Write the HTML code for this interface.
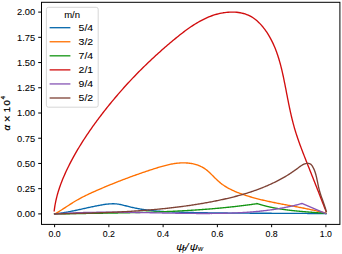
<!DOCTYPE html>
<html><head><meta charset="utf-8"><style>
html,body{margin:0;padding:0;background:#fff;width:342px;height:254px;overflow:hidden}
svg{display:block}
text{font-family:"Liberation Sans",sans-serif;font-size:9.5px;fill:#000;stroke:#000;stroke-width:0.08px}
.yl text{stroke-width:0.25px}
</style></head><body>
<svg width="342" height="254" viewBox="0 0 342 254">
<rect width="342" height="254" fill="#fff"/>
<g fill="none" stroke-width="1.35" stroke-linecap="square" stroke-linejoin="round">
<path d="M54.60,213.82 L55.51,213.74 L56.41,213.64 L57.32,213.54 L58.22,213.44 L59.12,213.33 L60.02,213.21 L60.93,213.08 L61.83,212.95 L62.73,212.82 L63.63,212.68 L64.53,212.53 L65.43,212.38 L66.33,212.22 L67.23,212.06 L68.13,211.90 L69.02,211.73 L69.92,211.56 L70.82,211.39 L71.72,211.21 L72.62,211.03 L73.51,210.84 L74.41,210.66 L75.31,210.47 L76.20,210.28 L77.10,210.09 L78.00,209.89 L78.89,209.70 L79.79,209.50 L80.69,209.30 L81.59,209.10 L82.48,208.90 L83.38,208.70 L84.28,208.50 L85.17,208.30 L86.07,208.10 L86.97,207.90 L87.87,207.71 L88.76,207.51 L89.66,207.31 L90.56,207.12 L91.46,206.93 L92.36,206.73 L93.26,206.54 L94.16,206.36 L95.06,206.17 L95.96,205.99 L96.86,205.81 L97.76,205.64 L98.66,205.47 L99.56,205.30 L100.47,205.13 L101.37,204.97 L102.27,204.82 L103.18,204.67 L104.08,204.53 L104.98,204.39 L105.89,204.27 L106.79,204.16 L107.70,204.06 L108.60,203.97 L109.50,203.90 L110.40,203.84 L111.30,203.80 L112.20,203.77 L113.10,203.77 L113.99,203.78 L114.89,203.82 L115.78,203.87 L116.67,203.95 L117.56,204.06 L118.45,204.19 L119.34,204.34 L120.22,204.50 L121.10,204.69 L121.99,204.88 L122.87,205.09 L123.75,205.31 L124.63,205.53 L125.52,205.76 L126.40,205.99 L127.28,206.22 L128.16,206.45 L129.05,206.68 L129.93,206.89 L130.82,207.10 L131.71,207.31 L132.59,207.51 L133.48,207.70 L134.37,207.89 L135.27,208.07 L136.16,208.25 L137.05,208.42 L137.95,208.59 L138.84,208.75 L139.74,208.91 L140.63,209.06 L141.53,209.21 L142.43,209.35 L143.33,209.49 L144.23,209.62 L145.13,209.75 L146.03,209.88 L146.93,210.00 L147.84,210.11 L148.74,210.22 L149.65,210.33 L150.55,210.43 L151.46,210.53 L152.36,210.63 L153.27,210.72 L154.18,210.81 L155.09,210.90 L156.00,210.98 L156.90,211.06 L157.81,211.13 L158.72,211.20 L159.64,211.27 L160.55,211.34 L161.46,211.40 L162.37,211.46 L163.28,211.52 L164.19,211.58 L165.11,211.63 L166.02,211.68 L166.93,211.73 L167.85,211.78 L168.76,211.82 L169.68,211.86 L170.59,211.90 L171.51,211.94 L172.42,211.98 L173.34,212.01 L174.25,212.05 L175.17,212.08 L176.09,212.11 L177.00,212.14 L177.92,212.17 L178.83,212.19 L179.75,212.22 L180.67,212.25 L181.58,212.27 L182.50,212.29 L183.41,212.32 L184.33,212.34 L185.25,212.36 L186.16,212.38 L187.08,212.40 L187.99,212.43 L188.91,212.45 L189.83,212.47 L190.74,212.49 L191.66,212.51 L192.57,212.53 L193.49,212.54 L194.40,212.56 L195.32,212.58 L196.23,212.60 L197.15,212.62 L198.06,212.63 L198.98,212.65 L199.89,212.67 L200.81,212.68 L201.72,212.70 L202.64,212.72 L203.55,212.73 L204.47,212.75 L205.38,212.76 L206.30,212.78 L207.21,212.79 L208.13,212.80 L209.04,212.82 L209.95,212.83 L210.87,212.84 L211.78,212.86 L212.70,212.87 L213.61,212.88 L214.53,212.89 L215.44,212.91 L216.35,212.92 L217.27,212.93 L218.18,212.94 L219.10,212.95 L220.01,212.96 L220.92,212.97 L221.84,212.98 L222.75,212.99 L223.66,213.00 L224.58,213.01 L225.49,213.02 L226.40,213.03 L227.32,213.04 L228.23,213.05 L229.15,213.05 L230.06,213.06 L230.97,213.07 L231.89,213.08 L232.80,213.09 L233.71,213.09 L234.63,213.10 L235.54,213.11 L236.45,213.12 L237.37,213.12 L238.28,213.13 L239.19,213.14 L240.11,213.14 L241.02,213.15 L241.93,213.15 L242.85,213.16 L243.76,213.17 L244.67,213.17 L245.58,213.18 L246.50,213.18 L247.41,213.19 L248.32,213.19 L249.24,213.20 L250.15,213.20 L251.06,213.21 L251.98,213.21 L252.89,213.22 L253.80,213.22 L254.72,213.23 L255.63,213.23 L256.54,213.23 L257.45,213.24 L258.37,213.24 L259.28,213.25 L260.19,213.25 L261.11,213.26 L262.02,213.26 L262.93,213.26 L263.85,213.27 L264.76,213.27 L265.67,213.27 L266.59,213.28 L267.50,213.28 L268.41,213.28 L269.33,213.29 L270.24,213.29 L271.15,213.29 L272.06,213.30 L272.98,213.30 L273.89,213.30 L274.80,213.31 L275.72,213.31 L276.63,213.31 L277.54,213.32 L278.46,213.32 L279.37,213.32 L280.28,213.33 L281.20,213.33 L282.11,213.33 L283.03,213.34 L283.94,213.34 L284.85,213.35 L285.77,213.35 L286.68,213.35 L287.59,213.36 L288.51,213.36 L289.42,213.36 L290.33,213.37 L291.25,213.37 L292.16,213.37 L293.08,213.38 L293.99,213.38 L294.90,213.39 L295.82,213.39 L296.73,213.40 L297.65,213.40 L298.56,213.40 L299.47,213.41 L300.39,213.41 L301.30,213.42 L302.22,213.42 L303.13,213.43 L304.05,213.43 L304.96,213.44 L305.88,213.44 L306.79,213.45 L307.70,213.45 L308.62,213.46 L309.53,213.46 L310.45,213.47 L311.36,213.48 L312.28,213.48 L313.19,213.49 L314.11,213.50 L315.02,213.50 L315.94,213.51 L316.85,213.52 L317.77,213.52 L318.68,213.53 L319.60,213.54 L320.52,213.54 L321.43,213.55 L322.35,213.56 L323.26,213.57 L324.18,213.58 L325.09,213.59 L326.01,213.59" stroke="#0467ab"/>
<path d="M54.66,213.98 L55.52,213.51 L56.38,213.03 L57.24,212.54 L58.09,212.05 L58.93,211.55 L59.77,211.04 L60.60,210.52 L61.44,210.00 L62.26,209.47 L63.09,208.94 L63.91,208.41 L64.73,207.88 L65.55,207.34 L66.37,206.80 L67.19,206.27 L68.01,205.73 L68.83,205.19 L69.66,204.66 L70.48,204.13 L71.31,203.60 L72.14,203.07 L72.97,202.55 L73.81,202.04 L74.65,201.53 L75.50,201.03 L76.35,200.53 L77.20,200.04 L78.06,199.56 L78.92,199.08 L79.79,198.61 L80.66,198.14 L81.53,197.68 L82.41,197.22 L83.29,196.77 L84.17,196.32 L85.05,195.88 L85.94,195.44 L86.83,195.01 L87.72,194.58 L88.62,194.15 L89.51,193.73 L90.41,193.31 L91.31,192.90 L92.21,192.48 L93.11,192.08 L94.01,191.67 L94.91,191.27 L95.82,190.87 L96.72,190.47 L97.63,190.07 L98.53,189.68 L99.43,189.29 L100.34,188.90 L101.24,188.52 L102.15,188.13 L103.05,187.75 L103.95,187.36 L104.86,186.98 L105.76,186.61 L106.66,186.23 L107.57,185.85 L108.47,185.48 L109.37,185.11 L110.28,184.74 L111.18,184.37 L112.08,184.01 L112.99,183.64 L113.89,183.28 L114.80,182.92 L115.70,182.56 L116.61,182.20 L117.51,181.84 L118.42,181.48 L119.32,181.13 L120.23,180.78 L121.14,180.43 L122.05,180.08 L122.96,179.73 L123.87,179.38 L124.78,179.04 L125.69,178.69 L126.60,178.35 L127.51,178.01 L128.42,177.67 L129.34,177.33 L130.25,176.99 L131.17,176.66 L132.09,176.32 L133.00,175.99 L133.92,175.66 L134.84,175.33 L135.77,175.00 L136.69,174.67 L137.61,174.34 L138.54,174.02 L139.47,173.69 L140.39,173.37 L141.32,173.05 L142.25,172.73 L143.19,172.41 L144.12,172.09 L145.06,171.77 L145.99,171.46 L146.93,171.14 L147.87,170.83 L148.82,170.51 L149.76,170.20 L150.71,169.89 L151.65,169.58 L152.60,169.27 L153.55,168.96 L154.51,168.65 L155.46,168.35 L156.42,168.05 L157.38,167.75 L158.34,167.45 L159.30,167.16 L160.26,166.88 L161.23,166.59 L162.19,166.32 L163.16,166.05 L164.13,165.79 L165.10,165.54 L166.07,165.29 L167.04,165.05 L168.01,164.83 L168.99,164.61 L169.96,164.40 L170.93,164.20 L171.91,164.02 L172.89,163.84 L173.86,163.68 L174.84,163.53 L175.82,163.40 L176.80,163.28 L177.78,163.17 L178.76,163.08 L179.74,163.01 L180.72,162.95 L181.70,162.91 L182.68,162.89 L183.66,162.88 L184.64,162.89 L185.61,162.92 L186.59,162.97 L187.56,163.04 L188.54,163.14 L189.50,163.25 L190.47,163.38 L191.42,163.53 L192.38,163.71 L193.32,163.90 L194.26,164.12 L195.19,164.36 L196.11,164.63 L197.03,164.92 L197.93,165.23 L198.83,165.57 L199.71,165.94 L200.58,166.32 L201.44,166.74 L202.29,167.18 L203.12,167.65 L203.94,168.14 L204.75,168.66 L205.54,169.21 L206.31,169.79 L207.07,170.39 L207.82,171.02 L208.56,171.66 L209.29,172.33 L210.01,173.00 L210.72,173.69 L211.43,174.39 L212.13,175.10 L212.84,175.81 L213.54,176.52 L214.24,177.23 L214.95,177.94 L215.66,178.64 L216.37,179.33 L217.10,180.02 L217.83,180.69 L218.56,181.35 L219.31,182.00 L220.07,182.63 L220.83,183.25 L221.61,183.85 L222.40,184.43 L223.20,184.99 L224.01,185.55 L224.83,186.08 L225.65,186.60 L226.49,187.11 L227.33,187.61 L228.18,188.09 L229.04,188.55 L229.91,189.01 L230.78,189.45 L231.66,189.89 L232.54,190.31 L233.44,190.72 L234.33,191.12 L235.23,191.51 L236.14,191.89 L237.05,192.26 L237.97,192.62 L238.88,192.98 L239.81,193.32 L240.73,193.66 L241.66,193.99 L242.59,194.32 L243.52,194.64 L244.45,194.95 L245.39,195.26 L246.33,195.57 L247.26,195.86 L248.20,196.16 L249.14,196.44 L250.09,196.73 L251.03,197.00 L251.97,197.28 L252.92,197.55 L253.86,197.81 L254.81,198.07 L255.76,198.33 L256.71,198.58 L257.66,198.82 L258.61,199.07 L259.57,199.31 L260.52,199.54 L261.48,199.78 L262.43,200.01 L263.39,200.23 L264.35,200.45 L265.31,200.67 L266.26,200.89 L267.22,201.10 L268.19,201.32 L269.15,201.52 L270.11,201.73 L271.07,201.93 L272.03,202.13 L273.00,202.33 L273.96,202.53 L274.93,202.72 L275.89,202.92 L276.86,203.11 L277.82,203.30 L278.79,203.49 L279.76,203.67 L280.73,203.86 L281.69,204.04 L282.66,204.23 L283.63,204.41 L284.60,204.59 L285.56,204.77 L286.53,204.95 L287.50,205.13 L288.47,205.31 L289.44,205.49 L290.41,205.67 L291.38,205.85 L292.35,206.02 L293.31,206.20 L294.28,206.38 L295.25,206.56 L296.22,206.74 L297.19,206.92 L298.15,207.11 L299.12,207.29 L300.09,207.47 L301.06,207.66 L302.02,207.84 L302.99,208.03 L303.95,208.22 L304.92,208.41 L305.88,208.60 L306.85,208.79 L307.81,208.99 L308.78,209.19 L309.74,209.39 L310.70,209.59 L311.66,209.79 L312.62,210.00 L313.58,210.21 L314.54,210.42 L315.50,210.64 L316.46,210.85 L317.41,211.08 L318.37,211.30 L319.33,211.53 L320.28,211.76 L321.23,211.99 L322.18,212.23 L323.14,212.47 L324.09,212.71 L325.04,212.96 L325.98,213.22" stroke="#ff7000"/>
<path d="M54.61,213.98 L55.28,213.97 L55.96,213.96 L56.64,213.94 L57.31,213.93 L57.99,213.92 L58.67,213.90 L59.34,213.89 L60.02,213.88 L60.70,213.87 L61.37,213.85 L62.05,213.84 L62.73,213.83 L63.40,213.82 L64.08,213.80 L64.76,213.79 L65.43,213.78 L66.11,213.77 L66.79,213.76 L67.46,213.75 L68.14,213.73 L68.82,213.72 L69.50,213.71 L70.17,213.70 L70.85,213.69 L71.53,213.68 L72.20,213.67 L72.88,213.66 L73.56,213.65 L74.24,213.64 L74.91,213.62 L75.59,213.61 L76.27,213.60 L76.94,213.59 L77.62,213.58 L78.30,213.57 L78.98,213.56 L79.65,213.55 L80.33,213.54 L81.01,213.53 L81.69,213.52 L82.36,213.51 L83.04,213.50 L83.72,213.49 L84.40,213.48 L85.07,213.47 L85.75,213.46 L86.43,213.45 L87.11,213.44 L87.78,213.43 L88.46,213.42 L89.14,213.41 L89.82,213.40 L90.49,213.39 L91.17,213.38 L91.85,213.37 L92.53,213.36 L93.20,213.35 L93.88,213.34 L94.56,213.33 L95.24,213.32 L95.91,213.31 L96.59,213.30 L97.27,213.29 L97.95,213.28 L98.63,213.27 L99.30,213.26 L99.98,213.25 L100.66,213.24 L101.34,213.23 L102.01,213.22 L102.69,213.21 L103.37,213.20 L104.05,213.19 L104.73,213.17 L105.40,213.16 L106.08,213.15 L106.76,213.14 L107.44,213.13 L108.12,213.12 L108.79,213.11 L109.47,213.10 L110.15,213.09 L110.83,213.07 L111.51,213.06 L112.18,213.05 L112.86,213.04 L113.54,213.03 L114.22,213.02 L114.90,213.00 L115.57,212.99 L116.25,212.98 L116.93,212.97 L117.61,212.96 L118.28,212.94 L118.96,212.93 L119.64,212.92 L120.32,212.90 L121.00,212.89 L121.67,212.88 L122.35,212.87 L123.03,212.85 L123.71,212.84 L124.39,212.82 L125.06,212.81 L125.74,212.80 L126.42,212.78 L127.10,212.77 L127.78,212.75 L128.45,212.74 L129.13,212.72 L129.81,212.71 L130.49,212.69 L131.17,212.68 L131.84,212.66 L132.52,212.65 L133.20,212.63 L133.88,212.62 L134.56,212.60 L135.23,212.58 L135.91,212.57 L136.59,212.55 L137.27,212.53 L137.95,212.52 L138.62,212.50 L139.30,212.48 L139.98,212.46 L140.66,212.44 L141.33,212.43 L142.01,212.41 L142.69,212.39 L143.37,212.37 L144.05,212.35 L144.72,212.33 L145.40,212.31 L146.08,212.29 L146.76,212.27 L147.43,212.25 L148.11,212.23 L148.79,212.21 L149.47,212.19 L150.14,212.17 L150.82,212.15 L151.50,212.12 L152.18,212.10 L152.86,212.08 L153.53,212.06 L154.21,212.03 L154.89,212.01 L155.57,211.99 L156.24,211.96 L156.92,211.94 L157.60,211.92 L158.28,211.89 L158.95,211.87 L159.63,211.84 L160.31,211.82 L160.99,211.79 L161.66,211.76 L162.34,211.74 L163.02,211.71 L163.69,211.68 L164.37,211.66 L165.05,211.63 L165.73,211.60 L166.40,211.57 L167.08,211.54 L167.76,211.52 L168.44,211.49 L169.11,211.46 L169.79,211.43 L170.47,211.40 L171.14,211.37 L171.82,211.33 L172.50,211.30 L173.17,211.27 L173.85,211.24 L174.53,211.21 L175.21,211.17 L175.88,211.14 L176.56,211.11 L177.24,211.07 L177.91,211.04 L178.59,211.01 L179.27,210.97 L179.94,210.94 L180.62,210.90 L181.30,210.86 L181.97,210.83 L182.65,210.79 L183.33,210.75 L184.00,210.72 L184.68,210.68 L185.36,210.64 L186.03,210.60 L186.71,210.56 L187.38,210.52 L188.06,210.48 L188.74,210.44 L189.41,210.40 L190.09,210.36 L190.77,210.32 L191.44,210.28 L192.12,210.23 L192.79,210.19 L193.47,210.15 L194.15,210.10 L194.82,210.06 L195.50,210.01 L196.17,209.97 L196.85,209.92 L197.53,209.88 L198.20,209.83 L198.88,209.78 L199.55,209.74 L200.23,209.69 L200.90,209.64 L201.58,209.59 L202.26,209.54 L202.93,209.49 L203.61,209.44 L204.28,209.39 L204.96,209.34 L205.63,209.29 L206.31,209.24 L206.98,209.18 L207.66,209.13 L208.33,209.08 L209.01,209.02 L209.68,208.97 L210.36,208.91 L211.03,208.86 L211.71,208.80 L212.38,208.74 L213.06,208.69 L213.73,208.63 L214.41,208.57 L215.08,208.51 L215.76,208.45 L216.43,208.39 L217.11,208.33 L217.78,208.27 L218.46,208.21 L219.13,208.15 L219.81,208.08 L220.48,208.02 L221.15,207.96 L221.83,207.89 L222.50,207.83 L223.18,207.76 L223.85,207.70 L224.53,207.63 L225.20,207.56 L225.87,207.50 L226.55,207.43 L227.22,207.36 L227.89,207.29 L228.57,207.22 L229.24,207.15 L229.92,207.08 L230.59,207.01 L231.26,206.93 L231.94,206.86 L232.61,206.79 L233.28,206.71 L233.96,206.64 L234.63,206.56 L235.30,206.49 L235.98,206.41 L236.65,206.33 L237.32,206.26 L238.00,206.18 L238.67,206.10 L239.34,206.02 L240.01,205.94 L240.69,205.86 L241.36,205.78 L242.03,205.69 L242.70,205.61 L243.38,205.53 L244.05,205.44 L244.72,205.36 L245.39,205.27 L246.07,205.19 L246.74,205.10 L247.41,205.01 L248.08,204.93 L248.75,204.84 L249.43,204.75 L250.10,204.66 L250.77,204.57 L251.44,204.47 L252.11,204.38 L252.79,204.29 L253.46,204.20 L254.13,204.10 L254.80,204.01 L255.47,203.91 L256.14,203.82 L256.81,203.72 L256.83,203.46 L257.05,203.53 L257.28,203.61 L257.50,203.68 L257.72,203.75 L257.95,203.82 L258.17,203.89 L258.39,203.96 L258.62,204.03 L258.84,204.10 L259.07,204.17 L259.29,204.24 L259.51,204.31 L259.74,204.38 L259.96,204.45 L260.19,204.51 L260.41,204.58 L260.64,204.65 L260.86,204.71 L261.09,204.78 L261.31,204.84 L261.54,204.91 L261.76,204.97 L261.99,205.03 L262.21,205.10 L262.44,205.16 L262.66,205.22 L262.89,205.29 L263.11,205.35 L263.34,205.41 L263.57,205.47 L263.79,205.53 L264.02,205.59 L264.24,205.65 L264.47,205.71 L264.70,205.77 L264.92,205.83 L265.15,205.88 L265.38,205.94 L265.60,206.00 L265.83,206.06 L266.05,206.11 L266.28,206.17 L266.51,206.22 L266.74,206.28 L266.96,206.34 L267.19,206.39 L267.42,206.44 L267.64,206.50 L267.87,206.55 L268.10,206.60 L268.32,206.66 L268.55,206.71 L268.78,206.76 L269.01,206.81 L269.23,206.87 L269.46,206.92 L269.69,206.97 L269.92,207.02 L270.15,207.07 L270.37,207.12 L270.60,207.17 L270.83,207.22 L271.06,207.26 L271.29,207.31 L271.51,207.36 L271.74,207.41 L271.97,207.45 L272.20,207.50 L272.43,207.55 L272.66,207.59 L272.89,207.64 L273.11,207.69 L273.34,207.73 L273.57,207.78 L273.80,207.82 L274.03,207.87 L274.26,207.91 L274.49,207.95 L274.72,208.00 L274.95,208.04 L275.17,208.08 L275.40,208.13 L275.63,208.17 L275.86,208.21 L276.09,208.25 L276.32,208.29 L276.55,208.33 L276.78,208.37 L277.01,208.41 L277.24,208.45 L277.47,208.49 L277.70,208.53 L277.93,208.57 L278.16,208.61 L278.39,208.65 L278.62,208.69 L278.85,208.73 L279.08,208.77 L279.31,208.80 L279.54,208.84 L279.77,208.88 L280.00,208.91 L280.23,208.95 L280.46,208.99 L280.69,209.02 L280.92,209.06 L281.15,209.09 L281.38,209.13 L281.61,209.16 L281.85,209.20 L282.08,209.23 L282.31,209.27 L282.54,209.30 L282.77,209.34 L283.00,209.37 L283.23,209.40 L283.46,209.44 L283.69,209.47 L283.92,209.50 L284.15,209.53 L284.39,209.57 L284.62,209.60 L284.85,209.63 L285.08,209.66 L285.31,209.69 L285.54,209.72 L285.77,209.75 L286.01,209.78 L286.24,209.81 L286.47,209.84 L286.70,209.87 L286.93,209.90 L287.16,209.93 L287.39,209.96 L287.63,209.99 L287.86,210.02 L288.09,210.05 L288.32,210.08 L288.55,210.11 L288.79,210.14 L289.02,210.16 L289.25,210.19 L289.48,210.22 L289.71,210.25 L289.95,210.27 L290.18,210.30 L290.41,210.33 L290.64,210.35 L290.87,210.38 L291.11,210.41 L291.34,210.43 L291.57,210.46 L291.80,210.48 L292.04,210.51 L292.27,210.54 L292.50,210.56 L292.73,210.59 L292.96,210.61 L293.20,210.64 L293.43,210.66 L293.66,210.69 L293.89,210.71 L294.13,210.73 L294.36,210.76 L294.59,210.78 L294.82,210.81 L295.06,210.83 L295.29,210.85 L295.52,210.88 L295.76,210.90 L295.99,210.92 L296.22,210.95 L296.45,210.97 L296.69,210.99 L296.92,211.01 L297.15,211.04 L297.38,211.06 L297.62,211.08 L297.85,211.10 L298.08,211.13 L298.32,211.15 L298.55,211.17 L298.78,211.19 L299.02,211.21 L299.25,211.23 L299.48,211.26 L299.71,211.28 L299.95,211.30 L300.18,211.32 L300.41,211.34 L300.65,211.36 L300.88,211.38 L301.11,211.40 L301.35,211.42 L301.58,211.44 L301.81,211.46 L302.04,211.48 L302.28,211.51 L302.51,211.53 L302.74,211.55 L302.98,211.57 L303.21,211.59 L303.44,211.61 L303.68,211.63 L303.91,211.65 L304.14,211.66 L304.38,211.68 L304.61,211.70 L304.84,211.72 L305.08,211.74 L305.31,211.76 L305.54,211.78 L305.78,211.80 L306.01,211.82 L306.24,211.84 L306.47,211.86 L306.71,211.88 L306.94,211.90 L307.17,211.92 L307.41,211.94 L307.64,211.95 L307.87,211.97 L308.11,211.99 L308.34,212.01 L308.57,212.03 L308.81,212.05 L309.04,212.07 L309.27,212.09 L309.51,212.11 L309.74,212.12 L309.97,212.14 L310.21,212.16 L310.44,212.18 L310.67,212.20 L310.91,212.22 L311.14,212.24 L311.37,212.25 L311.61,212.27 L311.84,212.29 L312.07,212.31 L312.31,212.33 L312.54,212.35 L312.77,212.37 L313.00,212.39 L313.24,212.40 L313.47,212.42 L313.70,212.44 L313.94,212.46 L314.17,212.48 L314.40,212.50 L314.64,212.52 L314.87,212.54 L315.10,212.55 L315.34,212.57 L315.57,212.59 L315.80,212.61 L316.03,212.63 L316.27,212.65 L316.50,212.67 L316.73,212.69 L316.97,212.71 L317.20,212.73 L317.43,212.74 L317.66,212.76 L317.90,212.78 L318.13,212.80 L318.36,212.82 L318.60,212.84 L318.83,212.86 L319.06,212.88 L319.29,212.90 L319.53,212.92 L319.76,212.94 L319.99,212.96 L320.22,212.98 L320.46,213.00 L320.69,213.02 L320.92,213.04 L321.15,213.06 L321.39,213.08 L321.62,213.10 L321.85,213.12 L322.08,213.14 L322.32,213.16 L322.55,213.18 L322.78,213.20 L323.01,213.22 L323.25,213.25 L323.48,213.27 L323.71,213.29 L323.94,213.31 L324.18,213.33 L324.41,213.35 L324.64,213.37 L324.87,213.39 L325.10,213.42 L325.34,213.44 L325.57,213.46 L325.80,213.48" stroke="#139513"/>
<path d="M54.21,210.82 L54.42,209.10 L54.66,207.39 L54.93,205.69 L55.23,204.00 L55.55,202.32 L55.90,200.64 L56.28,198.98 L56.68,197.32 L57.10,195.68 L57.55,194.04 L58.02,192.41 L58.51,190.79 L59.03,189.17 L59.56,187.56 L60.12,185.96 L60.69,184.37 L61.29,182.78 L61.90,181.20 L62.53,179.62 L63.18,178.06 L63.84,176.49 L64.52,174.94 L65.21,173.38 L65.92,171.84 L66.63,170.30 L67.37,168.76 L68.11,167.23 L68.87,165.70 L69.64,164.18 L70.42,162.66 L71.21,161.14 L72.01,159.64 L72.82,158.13 L73.64,156.63 L74.48,155.14 L75.32,153.65 L76.17,152.16 L77.03,150.68 L77.91,149.20 L78.79,147.73 L79.68,146.26 L80.58,144.80 L81.48,143.34 L82.40,141.89 L83.32,140.44 L84.26,139.00 L85.19,137.56 L86.14,136.13 L87.10,134.70 L88.06,133.28 L89.03,131.86 L90.00,130.44 L90.98,129.03 L91.97,127.63 L92.96,126.23 L93.96,124.84 L94.97,123.45 L95.98,122.07 L96.99,120.69 L98.01,119.31 L99.04,117.94 L100.07,116.58 L101.10,115.22 L102.14,113.87 L103.18,112.52 L104.23,111.18 L105.27,109.84 L106.33,108.51 L107.39,107.18 L108.45,105.85 L109.52,104.54 L110.59,103.22 L111.66,101.91 L112.74,100.61 L113.82,99.31 L114.91,98.02 L116.00,96.73 L117.10,95.44 L118.20,94.16 L119.31,92.88 L120.42,91.61 L121.53,90.34 L122.65,89.08 L123.77,87.82 L124.90,86.57 L126.04,85.32 L127.17,84.07 L128.32,82.83 L129.46,81.59 L130.62,80.36 L131.77,79.13 L132.94,77.90 L134.10,76.68 L135.27,75.46 L136.45,74.25 L137.63,73.04 L138.82,71.83 L140.01,70.63 L141.21,69.43 L142.41,68.24 L143.62,67.05 L144.83,65.86 L146.05,64.68 L147.27,63.50 L148.50,62.32 L149.74,61.15 L150.98,59.98 L152.22,58.81 L153.47,57.65 L154.73,56.49 L155.99,55.33 L157.26,54.18 L158.53,53.03 L159.81,51.88 L161.09,50.74 L162.38,49.60 L163.67,48.46 L164.97,47.33 L166.28,46.20 L167.59,45.07 L168.91,43.94 L170.24,42.82 L171.57,41.70 L172.90,40.59 L174.24,39.47 L175.59,38.36 L176.95,37.26 L178.31,36.16 L179.68,35.07 L181.05,33.99 L182.43,32.92 L183.82,31.86 L185.22,30.82 L186.62,29.79 L188.04,28.77 L189.46,27.77 L190.89,26.80 L192.32,25.84 L193.77,24.90 L195.23,23.98 L196.69,23.09 L198.16,22.22 L199.65,21.38 L201.14,20.57 L202.64,19.78 L204.15,19.03 L205.68,18.30 L207.21,17.61 L208.76,16.95 L210.31,16.33 L211.88,15.75 L213.46,15.20 L215.04,14.69 L216.65,14.23 L218.26,13.80 L219.88,13.42 L221.52,13.08 L223.17,12.79 L224.83,12.55 L226.51,12.35 L228.19,12.21 L229.90,12.11 L231.61,12.07 L233.32,12.08 L235.04,12.15 L236.76,12.29 L238.46,12.48 L240.15,12.75 L241.83,13.08 L243.48,13.49 L245.11,13.96 L246.70,14.52 L248.26,15.16 L249.78,15.87 L251.25,16.67 L252.68,17.55 L254.07,18.49 L255.42,19.50 L256.73,20.58 L258.00,21.71 L259.23,22.89 L260.42,24.12 L261.57,25.39 L262.69,26.70 L263.76,28.05 L264.80,29.42 L265.81,30.82 L266.78,32.23 L267.71,33.67 L268.61,35.12 L269.48,36.59 L270.32,38.07 L271.13,39.57 L271.90,41.09 L272.65,42.62 L273.37,44.16 L274.06,45.72 L274.73,47.29 L275.37,48.87 L275.99,50.46 L276.58,52.06 L277.16,53.68 L277.71,55.30 L278.24,56.93 L278.75,58.57 L279.24,60.21 L279.72,61.87 L280.18,63.53 L280.62,65.19 L281.05,66.86 L281.47,68.53 L281.87,70.21 L282.27,71.89 L282.65,73.58 L283.02,75.26 L283.38,76.95 L283.74,78.63 L284.09,80.32 L284.43,82.01 L284.77,83.69 L285.10,85.37 L285.43,87.06 L285.76,88.74 L286.09,90.41 L286.41,92.09 L286.73,93.76 L287.06,95.43 L287.38,97.10 L287.71,98.77 L288.04,100.44 L288.37,102.10 L288.70,103.77 L289.04,105.43 L289.38,107.08 L289.73,108.74 L290.09,110.39 L290.45,112.05 L290.82,113.70 L291.19,115.35 L291.58,116.99 L291.98,118.64 L292.38,120.28 L292.80,121.92 L293.23,123.56 L293.67,125.19 L294.12,126.82 L294.58,128.46 L295.07,130.09 L295.56,131.71 L296.07,133.34 L296.59,134.96 L297.13,136.58 L297.67,138.20 L298.23,139.82 L298.80,141.43 L299.37,143.04 L299.96,144.65 L300.55,146.26 L301.15,147.87 L301.75,149.48 L302.36,151.08 L302.98,152.68 L303.60,154.28 L304.22,155.88 L304.85,157.48 L305.47,159.07 L306.10,160.67 L306.73,162.26 L307.36,163.85 L307.99,165.44 L308.61,167.03 L309.24,168.61 L309.87,170.20 L310.50,171.79 L311.13,173.37 L311.76,174.95 L312.39,176.54 L313.01,178.12 L313.64,179.70 L314.27,181.29 L314.89,182.87 L315.52,184.45 L316.15,186.04 L316.77,187.62 L317.39,189.20 L318.02,190.79 L318.64,192.37 L319.26,193.96 L319.88,195.55 L320.50,197.13 L321.12,198.72 L321.74,200.31 L322.35,201.90 L322.97,203.49 L323.59,205.09 L324.21,206.68 L324.83,208.27 L325.45,209.87 L326.07,211.46" stroke="#d10d0e"/>
<path d="M54.61,213.94 L55.43,213.88 L56.26,213.82 L57.08,213.76 L57.91,213.71 L58.74,213.65 L59.56,213.60 L60.39,213.55 L61.21,213.50 L62.04,213.45 L62.87,213.40 L63.69,213.35 L64.52,213.31 L65.35,213.26 L66.17,213.22 L67.00,213.18 L67.83,213.13 L68.66,213.09 L69.48,213.05 L70.31,213.02 L71.14,212.98 L71.97,212.94 L72.79,212.91 L73.62,212.87 L74.45,212.84 L75.28,212.81 L76.10,212.78 L76.93,212.75 L77.76,212.72 L78.59,212.69 L79.42,212.66 L80.24,212.63 L81.07,212.61 L81.90,212.58 L82.73,212.56 L83.56,212.54 L84.39,212.52 L85.22,212.49 L86.04,212.47 L86.87,212.45 L87.70,212.44 L88.53,212.42 L89.36,212.40 L90.19,212.39 L91.02,212.37 L91.85,212.36 L92.68,212.34 L93.51,212.33 L94.34,212.32 L95.16,212.31 L95.99,212.30 L96.82,212.29 L97.65,212.28 L98.48,212.27 L99.31,212.26 L100.14,212.25 L100.97,212.25 L101.80,212.24 L102.63,212.24 L103.46,212.23 L104.29,212.23 L105.12,212.23 L105.95,212.22 L106.78,212.22 L107.61,212.22 L108.44,212.22 L109.27,212.22 L110.10,212.22 L110.93,212.22 L111.76,212.22 L112.59,212.22 L113.43,212.23 L114.26,212.23 L115.09,212.23 L115.92,212.24 L116.75,212.24 L117.58,212.25 L118.41,212.25 L119.24,212.26 L120.07,212.27 L120.90,212.27 L121.73,212.28 L122.56,212.29 L123.39,212.30 L124.23,212.31 L125.06,212.32 L125.89,212.32 L126.72,212.33 L127.55,212.34 L128.38,212.36 L129.21,212.37 L130.04,212.38 L130.88,212.39 L131.71,212.40 L132.54,212.41 L133.37,212.43 L134.20,212.44 L135.03,212.45 L135.86,212.46 L136.69,212.48 L137.53,212.49 L138.36,212.51 L139.19,212.52 L140.02,212.53 L140.85,212.55 L141.68,212.56 L142.52,212.58 L143.35,212.59 L144.18,212.61 L145.01,212.62 L145.84,212.64 L146.67,212.66 L147.51,212.67 L148.34,212.69 L149.17,212.70 L150.00,212.72 L150.83,212.74 L151.66,212.75 L152.50,212.77 L153.33,212.79 L154.16,212.80 L154.99,212.82 L155.82,212.83 L156.65,212.85 L157.49,212.87 L158.32,212.88 L159.15,212.90 L159.98,212.92 L160.81,212.93 L161.65,212.95 L162.48,212.97 L163.31,212.98 L164.14,213.00 L164.97,213.01 L165.80,213.03 L166.64,213.05 L167.47,213.06 L168.30,213.08 L169.13,213.09 L169.96,213.11 L170.80,213.12 L171.63,213.14 L172.46,213.15 L173.29,213.17 L174.12,213.18 L174.95,213.20 L175.79,213.21 L176.62,213.22 L177.45,213.24 L178.28,213.25 L179.11,213.26 L179.94,213.27 L180.78,213.29 L181.61,213.30 L182.44,213.31 L183.27,213.32 L184.10,213.33 L184.93,213.34 L185.76,213.35 L186.60,213.36 L187.43,213.37 L188.26,213.38 L189.09,213.39 L189.92,213.40 L190.75,213.41 L191.58,213.42 L192.42,213.42 L193.25,213.43 L194.08,213.44 L194.91,213.44 L195.74,213.45 L196.57,213.45 L197.40,213.46 L198.23,213.46 L199.07,213.46 L199.90,213.47 L200.73,213.47 L201.56,213.47 L202.39,213.47 L203.22,213.47 L204.05,213.47 L204.88,213.47 L205.71,213.47 L206.54,213.47 L207.37,213.47 L208.21,213.47 L209.04,213.46 L209.87,213.46 L210.70,213.45 L211.53,213.45 L212.36,213.44 L213.19,213.44 L214.02,213.43 L214.85,213.42 L215.68,213.41 L216.51,213.40 L217.34,213.39 L218.17,213.38 L219.00,213.37 L219.83,213.35 L220.66,213.34 L221.49,213.32 L222.32,213.31 L223.15,213.29 L223.98,213.27 L224.81,213.25 L225.64,213.23 L226.47,213.21 L227.30,213.19 L228.13,213.17 L228.95,213.14 L229.78,213.12 L230.61,213.09 L231.44,213.06 L232.27,213.03 L233.10,213.00 L233.93,212.97 L234.75,212.93 L235.58,212.90 L236.41,212.86 L237.24,212.83 L238.07,212.79 L238.89,212.75 L239.72,212.71 L240.55,212.66 L241.37,212.62 L242.20,212.57 L243.03,212.52 L243.85,212.48 L244.68,212.42 L245.51,212.37 L246.33,212.32 L247.16,212.26 L247.99,212.21 L248.81,212.15 L249.64,212.09 L250.46,212.02 L251.29,211.96 L252.11,211.89 L252.94,211.83 L253.76,211.76 L254.59,211.69 L255.41,211.61 L256.23,211.54 L257.06,211.46 L257.88,211.38 L258.70,211.30 L259.53,211.22 L260.35,211.13 L261.17,211.04 L262.00,210.96 L262.82,210.86 L263.64,210.77 L264.46,210.68 L265.28,210.58 L266.11,210.48 L266.93,210.38 L267.75,210.27 L268.57,210.17 L269.39,210.06 L270.21,209.95 L271.03,209.83 L271.85,209.72 L272.67,209.60 L273.49,209.48 L274.31,209.35 L275.12,209.23 L275.94,209.10 L276.76,208.97 L277.58,208.84 L278.39,208.70 L279.21,208.56 L280.03,208.42 L280.85,208.28 L281.66,208.13 L282.48,207.98 L283.29,207.83 L284.11,207.68 L284.92,207.52 L285.74,207.36 L286.55,207.20 L287.37,207.03 L288.18,206.86 L288.99,206.69 L289.81,206.51 L290.62,206.34 L291.43,206.16 L292.24,205.97 L293.05,205.79 L293.86,205.60 L294.68,205.40 L295.49,205.21 L296.30,205.01 L297.11,204.81 L297.92,204.60 L298.72,204.39 L299.53,204.18 L300.34,203.97 L301.15,203.75 L301.96,203.53 L301.90,203.40 L325.80,213.50" stroke="#8755b5"/>
<path d="M54.59,213.93 L55.65,213.91 L56.71,213.89 L57.76,213.86 L58.82,213.84 L59.88,213.82 L60.93,213.80 L61.99,213.78 L63.04,213.76 L64.10,213.73 L65.16,213.71 L66.21,213.69 L67.27,213.67 L68.33,213.64 L69.38,213.62 L70.44,213.60 L71.50,213.57 L72.55,213.55 L73.61,213.53 L74.67,213.50 L75.72,213.48 L76.78,213.45 L77.84,213.42 L78.89,213.40 L79.95,213.37 L81.01,213.34 L82.06,213.32 L83.12,213.29 L84.17,213.26 L85.23,213.23 L86.29,213.20 L87.34,213.17 L88.40,213.14 L89.46,213.11 L90.51,213.08 L91.57,213.05 L92.63,213.01 L93.68,212.98 L94.74,212.95 L95.79,212.91 L96.85,212.88 L97.91,212.84 L98.96,212.80 L100.02,212.77 L101.07,212.73 L102.13,212.69 L103.18,212.65 L104.24,212.61 L105.30,212.57 L106.35,212.53 L107.41,212.48 L108.46,212.44 L109.52,212.40 L110.57,212.35 L111.63,212.31 L112.68,212.26 L113.74,212.21 L114.79,212.16 L115.85,212.11 L116.90,212.06 L117.96,212.01 L119.01,211.96 L120.07,211.90 L121.12,211.85 L122.18,211.79 L123.23,211.74 L124.29,211.68 L125.34,211.62 L126.39,211.56 L127.45,211.50 L128.50,211.44 L129.56,211.38 L130.61,211.31 L131.66,211.25 L132.72,211.18 L133.77,211.11 L134.82,211.04 L135.88,210.97 L136.93,210.90 L137.98,210.83 L139.04,210.76 L140.09,210.68 L141.14,210.61 L142.20,210.53 L143.25,210.45 L144.30,210.37 L145.35,210.29 L146.40,210.21 L147.46,210.12 L148.51,210.04 L149.56,209.95 L150.61,209.86 L151.66,209.77 L152.71,209.68 L153.77,209.59 L154.82,209.49 L155.87,209.40 L156.92,209.30 L157.97,209.20 L159.02,209.10 L160.07,209.00 L161.12,208.89 L162.17,208.79 L163.22,208.68 L164.27,208.58 L165.32,208.47 L166.37,208.35 L167.42,208.24 L168.47,208.13 L169.52,208.01 L170.57,207.89 L171.62,207.77 L172.66,207.65 L173.71,207.53 L174.76,207.40 L175.81,207.27 L176.86,207.15 L177.90,207.02 L178.95,206.88 L180.00,206.75 L181.05,206.61 L182.09,206.48 L183.14,206.34 L184.19,206.19 L185.23,206.05 L186.28,205.90 L187.33,205.76 L188.37,205.61 L189.42,205.46 L190.46,205.30 L191.51,205.15 L192.55,204.99 L193.60,204.83 L194.64,204.67 L195.69,204.51 L196.73,204.34 L197.78,204.17 L198.82,204.00 L199.86,203.83 L200.91,203.66 L201.95,203.48 L202.99,203.30 L204.04,203.12 L205.08,202.94 L206.12,202.76 L207.16,202.57 L208.21,202.38 L209.25,202.19 L210.29,201.99 L211.33,201.80 L212.37,201.60 L213.41,201.40 L214.45,201.19 L215.49,200.99 L216.53,200.78 L217.57,200.57 L218.61,200.36 L219.65,200.14 L220.68,199.92 L221.72,199.70 L222.76,199.47 L223.79,199.24 L224.83,199.01 L225.86,198.78 L226.89,198.54 L227.92,198.30 L228.95,198.06 L229.98,197.81 L231.01,197.56 L232.04,197.30 L233.07,197.05 L234.09,196.78 L235.12,196.52 L236.14,196.25 L237.16,195.98 L238.18,195.70 L239.20,195.42 L240.22,195.14 L241.23,194.85 L242.25,194.56 L243.26,194.26 L244.27,193.96 L245.28,193.66 L246.29,193.35 L247.30,193.04 L248.30,192.72 L249.31,192.40 L250.31,192.07 L251.31,191.74 L252.30,191.40 L253.30,191.06 L254.29,190.72 L255.28,190.37 L256.27,190.02 L257.26,189.66 L258.25,189.29 L259.23,188.92 L260.21,188.55 L261.19,188.17 L262.16,187.79 L263.14,187.40 L264.11,187.00 L265.08,186.60 L266.04,186.19 L267.01,185.78 L267.97,185.37 L268.93,184.94 L269.88,184.51 L270.84,184.08 L271.79,183.64 L272.73,183.20 L273.68,182.74 L274.62,182.29 L275.56,181.82 L276.50,181.36 L277.43,180.88 L278.36,180.40 L279.29,179.91 L280.21,179.42 L281.13,178.92 L282.05,178.41 L282.96,177.89 L283.88,177.37 L284.79,176.84 L285.70,176.30 L286.61,175.76 L287.51,175.20 L288.42,174.64 L289.32,174.06 L290.23,173.48 L291.13,172.89 L292.03,172.28 L292.94,171.67 L293.84,171.05 L294.75,170.41 L295.65,169.76 L296.56,169.10 L297.46,168.43 L298.37,167.75 L299.28,167.07 L300.20,166.41 L301.12,165.79 L302.04,165.20 L302.96,164.67 L303.90,164.22 L304.84,163.84 L305.78,163.57 L306.73,163.40 L307.70,163.35 L308.66,163.45 L309.58,163.68 L310.44,164.08 L311.19,164.65 L311.82,165.38 L312.37,166.20 L312.89,167.06 L313.36,167.95 L313.81,168.86 L314.22,169.80 L314.60,170.75 L314.96,171.73 L315.29,172.73 L315.60,173.74 L315.89,174.77 L316.16,175.81 L316.42,176.87 L316.66,177.93 L316.89,179.00 L317.12,180.07 L317.34,181.15 L317.56,182.23 L317.78,183.30 L318.00,184.38 L318.22,185.45 L318.45,186.52 L318.69,187.58 L318.94,188.62 L319.20,189.66 L319.47,190.68 L319.76,191.70 L320.06,192.70 L320.37,193.70 L320.69,194.69 L321.02,195.67 L321.36,196.65 L321.70,197.62 L322.04,198.59 L322.39,199.57 L322.74,200.54 L323.09,201.51 L323.44,202.49 L323.78,203.47 L324.13,204.46 L324.47,205.46 L324.80,206.46 L325.13,207.47 L325.45,208.50 L325.76,209.53 L326.05,210.58 L326.34,211.65" stroke="#7e4235"/>
</g>
<g stroke="#000" stroke-width="1.0" fill="none">
<rect x="41.5" y="2.3" width="298.4" height="222.1"/>
<line x1="38.2" x2="41.2" y1="213.90" y2="213.90"/><line x1="38.2" x2="41.2" y1="188.68" y2="188.68"/><line x1="38.2" x2="41.2" y1="163.45" y2="163.45"/><line x1="38.2" x2="41.2" y1="138.22" y2="138.22"/><line x1="38.2" x2="41.2" y1="113.00" y2="113.00"/><line x1="38.2" x2="41.2" y1="87.78" y2="87.78"/><line x1="38.2" x2="41.2" y1="62.55" y2="62.55"/><line x1="38.2" x2="41.2" y1="37.32" y2="37.32"/><line x1="38.2" x2="41.2" y1="12.10" y2="12.10"/><line x1="54.60" x2="54.60" y1="224.5" y2="227.2"/><line x1="108.86" x2="108.86" y1="224.5" y2="227.2"/><line x1="163.12" x2="163.12" y1="224.5" y2="227.2"/><line x1="217.38" x2="217.38" y1="224.5" y2="227.2"/><line x1="271.64" x2="271.64" y1="224.5" y2="227.2"/><line x1="325.90" x2="325.90" y1="224.5" y2="227.2"/>
</g>
<rect x="46.4" y="7.3" width="51.8" height="99.9" rx="2" ry="2" fill="#fff" fill-opacity="0.8" stroke="#cccccc" stroke-width="0.8"/><text x="72.1" y="17.9" text-anchor="middle">m/n</text><line x1="49.6" x2="70.4" y1="27.70" y2="27.70" stroke="#0467ab" stroke-width="1.3"/><text x="78.6" y="31.10" textLength="14.6" lengthAdjust="spacingAndGlyphs">5/4</text><line x1="49.6" x2="70.4" y1="41.76" y2="41.76" stroke="#ff7000" stroke-width="1.3"/><text x="78.6" y="45.16" textLength="14.6" lengthAdjust="spacingAndGlyphs">3/2</text><line x1="49.6" x2="70.4" y1="55.82" y2="55.82" stroke="#139513" stroke-width="1.3"/><text x="78.6" y="59.22" textLength="14.6" lengthAdjust="spacingAndGlyphs">7/4</text><line x1="49.6" x2="70.4" y1="69.88" y2="69.88" stroke="#d10d0e" stroke-width="1.3"/><text x="78.6" y="73.28" textLength="14.6" lengthAdjust="spacingAndGlyphs">2/1</text><line x1="49.6" x2="70.4" y1="83.94" y2="83.94" stroke="#8755b5" stroke-width="1.3"/><text x="78.6" y="87.34" textLength="14.6" lengthAdjust="spacingAndGlyphs">9/4</text><line x1="49.6" x2="70.4" y1="98.00" y2="98.00" stroke="#7e4235" stroke-width="1.3"/><text x="78.6" y="101.40" textLength="14.6" lengthAdjust="spacingAndGlyphs">5/2</text>
<text x="35.2" y="217.20" text-anchor="end" textLength="18.1" lengthAdjust="spacingAndGlyphs">0.00</text><text x="35.2" y="191.98" text-anchor="end" textLength="18.1" lengthAdjust="spacingAndGlyphs">0.25</text><text x="35.2" y="166.75" text-anchor="end" textLength="18.1" lengthAdjust="spacingAndGlyphs">0.50</text><text x="35.2" y="141.53" text-anchor="end" textLength="18.1" lengthAdjust="spacingAndGlyphs">0.75</text><text x="35.2" y="116.30" text-anchor="end" textLength="18.1" lengthAdjust="spacingAndGlyphs">1.00</text><text x="35.2" y="91.08" text-anchor="end" textLength="18.1" lengthAdjust="spacingAndGlyphs">1.25</text><text x="35.2" y="65.85" text-anchor="end" textLength="18.1" lengthAdjust="spacingAndGlyphs">1.50</text><text x="35.2" y="40.62" text-anchor="end" textLength="18.1" lengthAdjust="spacingAndGlyphs">1.75</text><text x="35.2" y="15.40" text-anchor="end" textLength="18.1" lengthAdjust="spacingAndGlyphs">2.00</text><text x="54.60" y="236.9" text-anchor="middle" textLength="12.2" lengthAdjust="spacingAndGlyphs">0.0</text><text x="108.86" y="236.9" text-anchor="middle" textLength="12.2" lengthAdjust="spacingAndGlyphs">0.2</text><text x="163.12" y="236.9" text-anchor="middle" textLength="12.2" lengthAdjust="spacingAndGlyphs">0.4</text><text x="217.38" y="236.9" text-anchor="middle" textLength="12.2" lengthAdjust="spacingAndGlyphs">0.6</text><text x="271.64" y="236.9" text-anchor="middle" textLength="12.2" lengthAdjust="spacingAndGlyphs">0.8</text><text x="325.90" y="236.9" text-anchor="middle" textLength="12.2" lengthAdjust="spacingAndGlyphs">1.0</text>
<g class="yl" transform="translate(10.0,0) rotate(-90)" text-anchor="middle">
<text x="-127.9" y="0" font-style="italic">α</text>
<text x="-118.7" y="0.9" style="font-size:11px">×</text>
<text x="-109.65" y="0">1</text>
<text x="-102.95" y="0">0</text>
<text x="-97.75" y="-5.2" style="font-size:5.6px">4</text>
</g>
<g font-style="italic" text-anchor="middle">
<text transform="translate(180.3,249.9) scale(1.2,1)">ψ</text>
<text x="184.3" y="251.4" style="font-size:6.5px">p</text>
<text transform="translate(187.0,249.9) scale(1.15,1)">/</text>
<text transform="translate(194.0,249.9) scale(1.2,1)">ψ</text>
<text x="200.6" y="251.0" style="font-size:7px">w</text>
</g>
</svg>
</body></html>
